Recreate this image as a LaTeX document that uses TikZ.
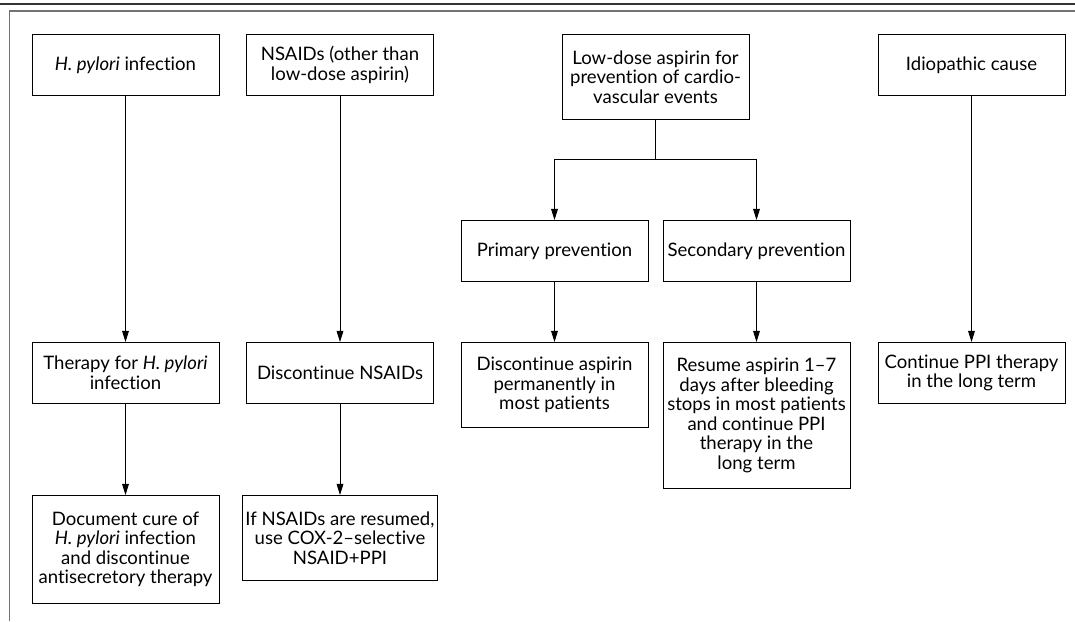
\documentclass[tikz,border=0pt]{standalone}
\usepackage{fontspec}
\setmainfont{Lato}[Ligatures=NoCommon]
\usetikzlibrary{arrows.meta}
\tikzset{
	box/.style={draw, line width=0.6pt, minimum width=4.675cm, align=center, inner sep=2pt, anchor=north, font=\fontsize{13.2}{13.9}\selectfont},
	arr/.style={line width=0.6pt, -{Triangle[length=2.8mm, width=1.7mm]}}
}
\begin{document}
\begin{tikzpicture}
			\useasboundingbox (0,0) rectangle (26.875,-15.525);
			\draw [line width=0.8pt, black!80] (0,-0.1) -- (26.875,-0.1);
			\draw [line width=1.2pt, black!55] (0.2375,-15.525) -- (0.2375,-0.275) -- (26.875,-0.275);
			% first row
			\node[box, minimum height=1.525cm] (hpylori) at (3.1375,-0.85) {\textit{H. pylori} infection};
			\node[box, minimum height=1.525cm] (nsaids) at (8.5,-0.85) {NSAIDs (other than\\low-dose aspirin)};
			\node[box, minimum height=2.125cm] (aspirin) at (16.3875,-0.85) {Low-dose aspirin for\\prevention of cardio-\\vascular events};
			\node[box, minimum height=1.525cm] (idio) at (24.2875,-0.85) {Idiopathic cause};
			\node[box, minimum height=1.525cm] (primary) at (13.8625,-5.5) {Primary prevention};
			\node[box, minimum height=1.525cm] (secondary) at (18.9125,-5.5) {Secondary prevention};
			% second row
			\node[box, minimum height=1.525cm] (therapy) at (3.1375,-8.55) {Therapy for \textit{H. pylori}\\infection};
			\node[box, minimum height=1.525cm] (stopnsaids) at (8.5,-8.55) {Discontinue NSAIDs};
			\node[box, minimum height=2.125cm] (stopasa) at (13.8625,-8.55) {Discontinue aspirin\\permanently in\\most patients};
			\node[box, minimum height=3.65cm] (resume) at (18.9125,-8.55) {Resume aspirin 1--7\\days after bleeding\\stops in most patients\\and continue PPI\\therapy in the\\long term};
			\node[box, minimum height=1.525cm] (ppi) at (24.2875,-8.55) {Continue PPI therapy\\in the long term};
			% third row
			\node[box, minimum height=2.7cm] (cure) at (3.1375,-12.375) {Document cure of\\\textit{H. pylori} infection\\and discontinue\\antisecretory therapy};
			\node[box, minimum height=2.125cm] (cox) at (8.5,-12.375) {If NSAIDs are resumed,\\use COX-2--selective\\NSAID+PPI};
			% arrows
			\draw [arr] (hpylori) -- (therapy);
			\draw [arr] (therapy) -- (cure);
			\draw [arr] (nsaids) -- (stopnsaids);
			\draw [arr] (stopnsaids) -- (cox);
			\draw [line width=0.6pt] (aspirin.south) -- ++(0,-1) coordinate (split);
			\draw [arr] (split) -| (primary.north);
			\draw [arr] (split) -| (secondary.north);
			\draw [arr] (primary) -- (stopasa);
			\draw [arr] (secondary) -- (resume);
			\draw [arr] (idio) -- (ppi);
		\end{tikzpicture}
\end{document}
